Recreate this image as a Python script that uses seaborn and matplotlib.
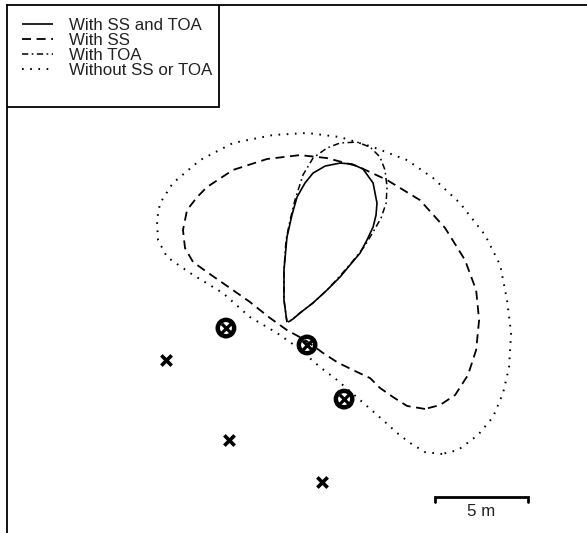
import numpy as np
import pandas as pd
import seaborn as sns
import matplotlib.pyplot as plt
from matplotlib.patches import Rectangle

# --- Coverage contours (metres) ---
ss_toa_x = [15.05, 14.89, 14.89, 15.05, 15.32, 15.59, 16.02, 16.45, 17.10, 17.90, 18.55, 19.14, 19.68,
            19.89, 19.84, 19.68, 19.35, 18.98, 18.44, 17.90, 17.20, 16.45, 15.75, 15.38, 15.11]
ss_toa_y = [11.34, 12.53, 14.14, 15.91, 17.10, 18.06, 18.82, 19.35, 19.73, 19.89, 19.84, 19.57, 18.82,
            17.74, 17.10, 16.45, 15.75, 15.05, 14.41, 13.76, 13.06, 12.37, 11.83, 11.51, 11.34]

ss_x = [22.47, 21.51, 20.75, 20.05, 19.52, 18.60, 17.74, 16.99, 16.02, 15.05, 14.14, 13.06, 11.99,
        10.91, 10.00, 9.57, 9.46, 9.68, 10.22, 10.75, 12.15, 13.98, 15.75, 17.20, 18.82, 20.43,
        22.20, 23.55, 24.62, 25.22, 25.38, 25.22, 24.78, 24.09, 23.28, 22.47]
ss_y = [6.67, 6.83, 7.31, 7.80, 8.33, 8.76, 9.19, 9.68, 10.38, 10.91, 11.56, 12.42, 13.17,
        13.92, 14.57, 15.32, 16.29, 17.37, 18.06, 18.60, 19.52, 20.11, 20.32, 20.16, 19.73, 18.98,
        17.90, 16.40, 14.68, 13.06, 11.45, 9.84, 8.49, 7.42, 6.88, 6.67]

toa_x = [15.05, 14.89, 14.89, 15.00, 15.22, 15.48, 15.91, 16.45, 17.20, 17.90, 18.82, 19.52, 20.05,
         20.32, 20.43, 20.38, 20.11, 19.68, 19.19, 18.55, 17.90, 17.20, 16.45, 15.75, 15.22]
toa_y = [11.34, 12.53, 14.14, 15.75, 16.83, 17.90, 19.25, 20.16, 20.70, 20.97, 21.02, 20.75, 20.22,
         19.52, 18.60, 17.74, 16.94, 16.18, 15.38, 14.57, 13.82, 13.06, 12.37, 11.83, 11.40]

none_x = [23.39, 22.47, 21.67, 20.97, 20.32, 18.98, 17.74, 16.83, 15.59, 14.52, 13.06, 11.61, 9.84,
          8.60, 8.12, 8.06, 8.23, 8.92, 10.38, 12.15, 14.30, 16.13, 17.90, 19.68, 21.51, 22.90,
          24.35, 25.70, 26.51, 26.88, 27.10, 26.99, 26.67, 26.13, 25.32, 24.25, 23.39]
none_y = [4.25, 4.35, 4.84, 5.38, 5.97, 7.15, 8.23, 8.92, 10.00, 10.75, 11.61, 12.90, 13.98,
          14.84, 15.75, 16.83, 17.74, 18.82, 20.05, 20.97, 21.40, 21.51, 21.29, 20.75, 20.05, 19.09,
          17.74, 16.02, 14.41, 12.53, 10.75, 8.92, 7.53, 6.24, 5.27, 4.46, 4.25]

# --- Sensor positions (metres) ---
cross_x = [8.55, 11.94, 16.94]
cross_y = [9.30, 5.00, 2.74]
circ_x = [11.77, 16.13, 18.12]
circ_y = [11.02, 10.11, 7.20]

labels = ["With SS and TOA", "With SS", "With TOA", "Without SS or TOA"]

sns.set_theme(style="white")
plt.rcParams['font.family'] = ['Liberation Sans', 'DejaVu Sans']
plt.rcParams['lines.scale_dashes'] = False

fig = plt.figure(figsize=(5.87, 5.33), dpi=100)
ax = fig.add_axes([7 / 587, 0, 1 - 7 / 587, 528 / 533])

curves = [
    (ss_toa_x, ss_toa_y, (0, ()), 1.2),
    (ss_x, ss_y, (0, (6.5, 4)), 1.3),
    (toa_x, toa_y, (0, (4.5, 2.5, 1.2, 2.5)), 1.1),
    (none_x, none_y, (0, (1.2, 4.7)), 1.4),
]
for (cx, cy, ls, lw), lab in zip(curves, labels):
    sns.lineplot(x=cx, y=cy, sort=False, estimator=None, color="black",
                 linestyle=ls, linewidth=lw, label=lab, ax=ax)

# sensors
sns.scatterplot(x=circ_x, y=circ_y, marker="o", s=140, facecolor="none",
                edgecolor="black", linewidth=3.2, ax=ax, zorder=5, legend=False)
sns.scatterplot(x=circ_x, y=circ_y, marker="x", s=45, color="black",
                linewidth=2.3, ax=ax, zorder=6, legend=False)
sns.scatterplot(x=cross_x, y=cross_y, marker="x", s=55, color="black",
                linewidth=2.6, ax=ax, zorder=6, legend=False)

# scale bar, 5 m
ax.plot([23.0, 23.0, 28.0, 28.0], [1.67, 1.94, 1.94, 1.67], color="black",
        lw=2, solid_joinstyle="miter")
ax.text(25.5, 1.13, "5 m", ha="center", va="center", fontsize=12.2, color="#222222")

ax.set_xlim(0, 31.18)
ax.set_ylim(0, 28.39)
ax.set_xticks([])
ax.set_yticks([])
ax.set_xlabel("")
ax.set_ylabel("")
for side in ["right", "bottom"]:
    ax.spines[side].set_visible(False)
for side in ["left", "top"]:
    ax.spines[side].set_color("black")
    ax.spines[side].set_linewidth(1.3)

# legend without its own frame, plus a box like the original
leg = ax.legend(loc="upper left", bbox_to_anchor=(0.026, 0.976), borderaxespad=0,
                borderpad=0, fontsize=12.2, labelspacing=0.0, handlelength=1.85,
                handletextpad=0.9, frameon=False)
for t in leg.get_texts():
    t.set_color("#222222")
ax.add_patch(Rectangle((0, 0.807), 0.365, 0.193, transform=ax.transAxes,
                       facecolor="white", edgecolor="black", lw=1.3, zorder=4))
leg.set_zorder(5)

fig.savefig("out.png", dpi=100)
